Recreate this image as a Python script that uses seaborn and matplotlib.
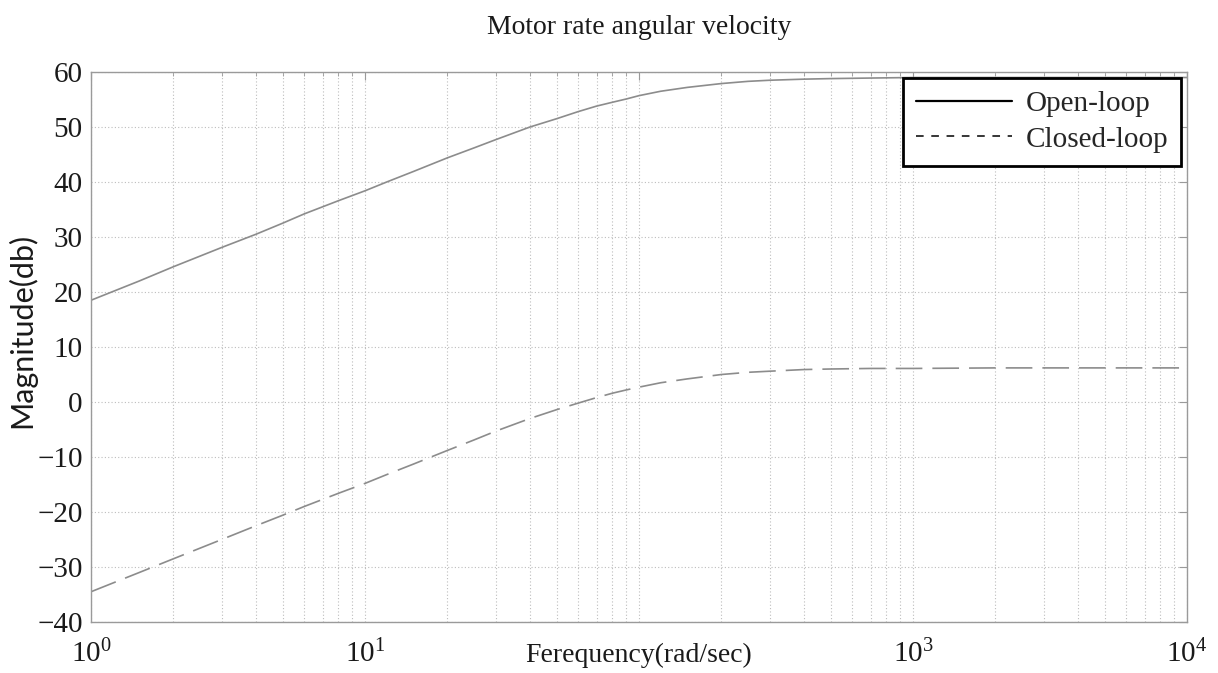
import numpy as np
import pandas as pd
import matplotlib
matplotlib.use("Agg")
import matplotlib.pyplot as plt
import seaborn as sns
from matplotlib.lines import Line2D
from matplotlib.ticker import LogLocator, FixedLocator, FixedFormatter, NullFormatter

# ---- data ----
freq = [1, 1.5, 2, 3, 4, 5, 6, 8, 10, 12, 15, 20, 25, 30, 40, 50, 60, 70, 80,
        90, 100, 120, 150, 200, 250, 300, 400, 500, 700, 1000, 2000, 10000]
open_loop = [18.5, 22.0, 24.6, 28.1, 30.5, 32.5, 34.2, 36.6, 38.4, 40.0, 41.9,
             44.4, 46.2, 47.7, 50.0, 51.5, 52.8, 53.8, 54.5, 55.1, 55.7, 56.5,
             57.2, 57.9, 58.3, 58.5, 58.7, 58.8, 58.9, 59.0, 59.0, 59.0]
closed_loop = [-34.5, -31.0, -28.5, -25.0, -22.5, -20.6, -19.0, -16.6, -14.8,
               -13.2, -11.3, -8.8, -6.9, -5.3, -3.0, -1.4, -0.2, 0.8, 1.6, 2.2,
               2.7, 3.5, 4.2, 5.0, 5.4, 5.6, 5.9, 6.0, 6.1, 6.1, 6.2, 6.2]
series_names = ["Open-loop", "Closed-loop"]
xtick_vals = [1, 10, 100, 1000, 10000]
xtick_labels = ["$10^{0}$", "$10^{1}$", "", "$10^{3}$", "$10^{4}$"]
ytick_vals = [-40, -30, -20, -10, 0, 10, 20, 30, 40, 50, 60]
title = "Motor rate angular velocity"
xlabel = "Ferequency(rad/sec)"
ylabel = "Magnitude(db)"

df = pd.DataFrame({
    "freq": freq * 2,
    "mag": open_loop + closed_loop,
    "series": [series_names[0]] * len(freq) + [series_names[1]] * len(freq),
})

sns.set_theme(style="white")
serif = ["Liberation Serif", "DejaVu Serif"]
plt.rcParams["font.family"] = serif
plt.rcParams["mathtext.fontset"] = "custom"
plt.rcParams["mathtext.rm"] = "Liberation Serif"
plt.rcParams["mathtext.it"] = "Liberation Serif:italic"

fig = plt.figure(figsize=(12.18, 6.73), dpi=100)
ax = fig.add_axes([91 / 1218, 1 - 622 / 673, (1187 - 91) / 1218, (622 - 72) / 673])

curve_color = "#8c8c8c"
sns.lineplot(data=df, x="freq", y="mag", hue="series", style="series",
             palette=[curve_color, curve_color],
             dashes={series_names[0]: "", series_names[1]: (16, 6)},
             linewidth=1.2, ax=ax, legend=False, estimator=None, sort=False)

ax.set_xscale("log")
ax.set_xlim(1, 10000)
ax.set_ylim(-40, 60)

ax.xaxis.set_major_locator(FixedLocator(xtick_vals))
ax.xaxis.set_major_formatter(FixedFormatter(xtick_labels))
ax.xaxis.set_minor_locator(LogLocator(base=10, subs=np.arange(2, 10)))
ax.xaxis.set_minor_formatter(NullFormatter())
ax.set_yticks(ytick_vals)

grid_kw = dict(color="#bdbdbd", linestyle=(0, (1, 2)), linewidth=0.8)
ax.grid(True, which="major", axis="both", **grid_kw)
ax.grid(True, which="minor", axis="x", **grid_kw)

for s in ax.spines.values():
    s.set_color("#9a9a9a")
    s.set_linewidth(1.0)

ax.tick_params(axis="both", which="both", direction="in", top=True, right=True,
               colors="#9a9a9a", labelcolor="#1a1a1a")
ax.tick_params(axis="both", which="major", length=6, width=0.8, labelsize=21)
ax.tick_params(axis="x", which="major", pad=13)
ax.tick_params(axis="y", which="major", pad=6)
ax.tick_params(axis="x", which="minor", length=3, width=0.6)

ax.set_title(title, fontsize=20, pad=27, color="#1a1a1a")
ax.set_xlabel(xlabel, fontsize=20, color="#1a1a1a")
ax.xaxis.set_label_coords(0.5, -0.038)
ax.set_ylabel(ylabel, fontsize=22, color="#1a1a1a", family=["Lato", "DejaVu Sans"])
ax.yaxis.set_label_coords(-0.05, 0.53)

handles = [Line2D([], [], color="black", linewidth=1.6, linestyle="-"),
           Line2D([], [], color="black", linewidth=1.1, linestyle=(0, (5, 5)))]
leg = ax.legend(handles, series_names, loc="upper right", bbox_to_anchor=(1, 1),
                borderaxespad=0.2, fontsize=21, handlelength=3.3,
                handletextpad=0.45, labelspacing=0.3, borderpad=0.45,
                fancybox=False, framealpha=1, edgecolor="black")
leg.get_frame().set_linewidth(2.0)

fig.savefig("out.png", dpi=100)
